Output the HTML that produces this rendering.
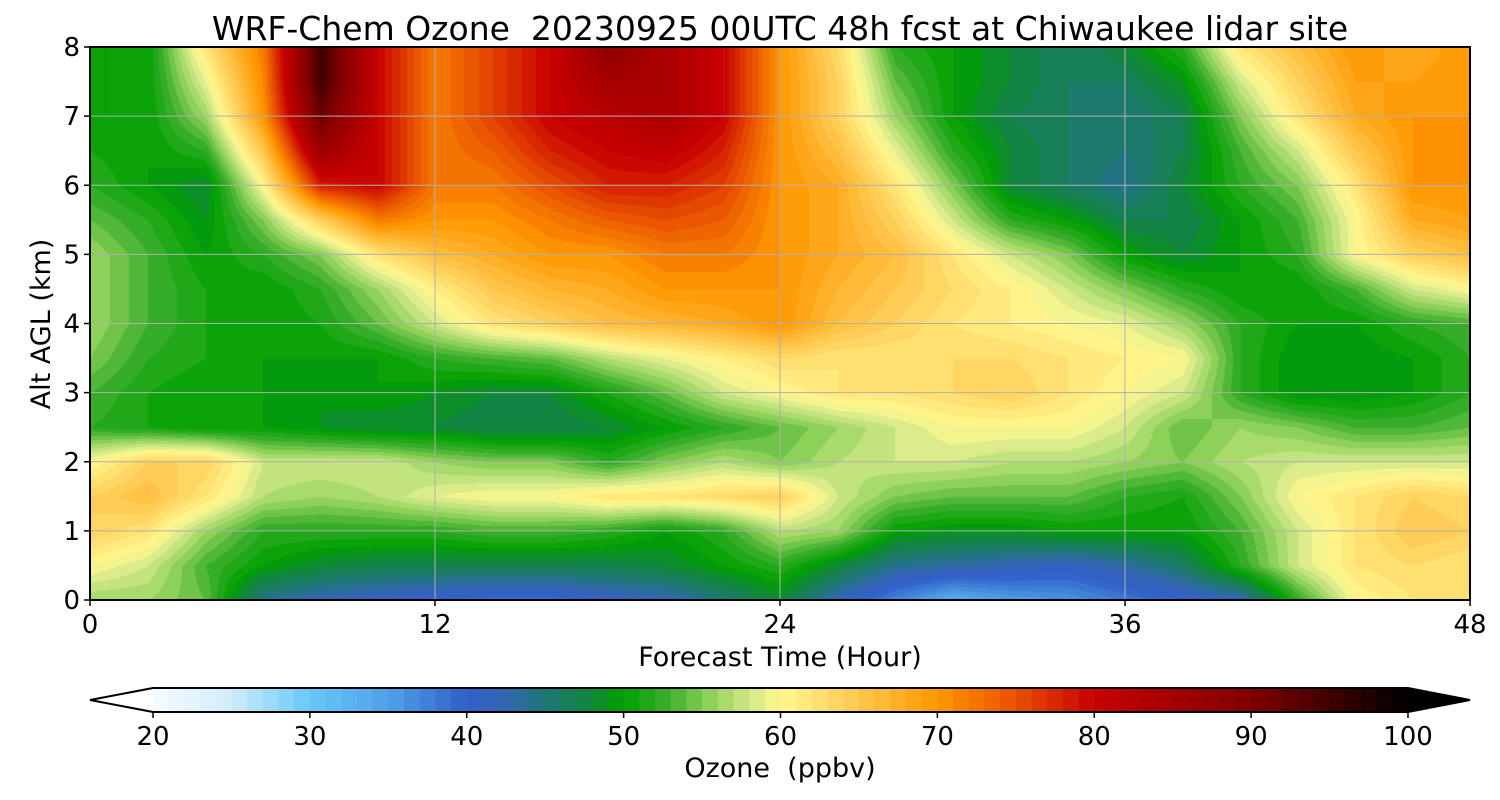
<!DOCTYPE html>
<html><head><meta charset="utf-8"><style>
body{margin:0;background:#fff;}
#wrap{position:relative;width:1500px;height:800px;font-family:"DejaVu Sans","Liberation Sans",sans-serif;}
canvas{position:absolute;left:90px;top:47px;}
svg{position:absolute;left:0;top:0;}
</style></head><body>
<div id="wrap">
<canvas id="cv" width="1380" height="553"></canvas>
<svg id="sv" width="1500" height="800"></svg>
</div>
<script>
const times=[0,2,4,6,8,10,12,14,16,18,20,22,24,26,28,30,32,34,36,38,40,42,44,46,48];
const alts=[0,0.5,1,1.5,2,2.5,3,3.5,4,4.5,5,5.5,6,6.5,7,7.5,8];
const z0=[56,56,54,44,42,41,40,39,39,41,42,45,48,42,37,33,35,36,38,40,42,52,60,62,62];
const z05=[60,58,53,50,48,47,47,47,47,47,48,50,52,48,44,43,42,41,43,46,52,58,62,63,62];
const z1=[64,62,56,52,52,52,52,53,53,52,50,52,57,56,50,49,49,50,50,50,53,58,62,65,64];
const z15=[64,66,62,57,56,57,59,60,60,62,62,63,64,58,55,54,54,54,52,51,55,60,62,64,63];
const z2=[60,64,64,58,58,58,56,55,55,52,55,57,55,57,58,58,57,57,56,55,57,58,58,58,58];
const z25=[52,51,50,50,49,48,48,47,47,48,50,52,54,56,58,60,60,60,58,54,56,55,53,53,54];
const z3=[53,51,50,50,49,50,49,48,48,51,54,58,60,62,62,63,64,62,60,58,52,49,49,50,52];
const z35=[55,52,51,50,50,50,52,53,54,57,59,61,63,62,62,63,63,62,61,60,52,49,49,50,52];
const z4=[56,53,51,50,51,54,58,62,64,66,67,68,70,66,64,62,61,60,59,56,52,50,50,52,53];
const z45=[56,53,51,50,52,56,61,65,67,68,70,70,70,67,65,63,61,58,55,52,50,50,53,58,60];
const z5=[56,53,50,52,55,62,66,68,70,70,72,72,70,68,66,62,58,55,50,48,50,52,60,64,66];
const z55=[54,52,49,55,64,72,70,70,72,74,75,74,70,68,64,58,52,50,47,47,50,53,60,68,69];
const z6=[52,50,48,60,78,80,72,72,75,78,78,76,70,68,62,55,48,46,44,48,52,55,62,70,70];
const z65=[51,50,52,65,86,80,72,74,78,80,81,78,70,66,59,52,48,46,45,47,53,58,65,70,70];
const z7=[50,50,56,70,92,80,72,76,80,82,84,80,70,64,56,50,47,46,45,47,55,62,68,70,70];
const z75=[50,50,59,71,95,80,72,76,80,85,84,80,70,64,54,50,48,46,46,49,58,64,69,69,70];
const z8=[50,50,62,72,95,80,72,76,80,88,84,80,70,63,52,50,48,46,48,52,62,66,70,68,70];
const grid=[z0,z05,z1,z15,z2,z25,z3,z35,z4,z45,z5,z55,z6,z65,z7,z75,z8];
const xTicks=[0,12,24,36,48];
const yTicks=[0,1,2,3,4,5,6,7,8];
const cbTicks=[20,30,40,50,60,70,80,90,100];

const stops=[[20,'#f5fbff'],[25,'#d0ecfc'],[30,'#66c8fa'],[35,'#50a0e8'],[40,'#3060c8'],[42,'#3462b8'],[45,'#207878'],[48,'#108838'],[50,'#00a000'],[53,'#40b030'],[55,'#80cc50'],[58,'#d0e888'],[60,'#fff890'],[65,'#ffc850'],[70,'#ff9800'],[75,'#e85000'],[80,'#c80000'],[90,'#800000'],[100,'#000000']];
function hex(h){return [1,3,5].map(i=>parseInt(h.substr(i,2),16));}
function cmap(v){
  v=Math.max(20,Math.min(100,v));
  for(let i=0;i<stops.length-1;i++){
    const [a,ca]=stops[i],[b,cb]=stops[i+1];
    if(v<=b){const f=(v-a)/(b-a),A=hex(ca),B=hex(cb);return A.map((x,k)=>Math.round(x+(B[k]-x)*f));}
  }
  return [0,0,0];
}
const PX=90,PW=1380,PY=47,PH=553;
const xs=t=>PX+t/48*PW, ys=z=>PY+PH-z/8*PH;
function val(t,z){
  let i=0;while(i<times.length-2&&t>times[i+1])i++;
  let j=0;while(j<alts.length-2&&z>alts[j+1])j++;
  const ft=(t-times[i])/(times[i+1]-times[i]),fz=(z-alts[j])/(alts[j+1]-alts[j]);
  const a=grid[j][i],b=grid[j][i+1],c=grid[j+1][i],d=grid[j+1][i+1];
  return (a*(1-ft)+b*ft)*(1-fz)+(c*(1-ft)+d*ft)*fz;
}
const cv=document.getElementById('cv'),ctx=cv.getContext('2d');
const img=ctx.createImageData(PW,PH);
for(let y=0;y<PH;y++){const z=(PH-y)/PH*8;for(let x=0;x<PW;x++){
  const t=x/PW*48;const v=Math.floor(val(t,z));const c=cmap(v+0.5);
  const o=(y*PW+x)*4;img.data[o]=c[0];img.data[o+1]=c[1];img.data[o+2]=c[2];img.data[o+3]=255;}}
ctx.putImageData(img,0,0);

const NS='http://www.w3.org/2000/svg',sv=document.getElementById('sv');
function el(tag,at,txt){const e=document.createElementNS(NS,tag);for(const k in at)e.setAttribute(k,at[k]);if(txt!==undefined)e.textContent=txt;sv.appendChild(e);return e;}
xTicks.forEach(t=>{
  const g=el('line',{x1:xs(t),x2:xs(t),y1:PY,y2:PY+PH,stroke:'#b0b0b0','stroke-width':1});
  
  
  el('line',{x1:xs(t),x2:xs(t),y1:PY+PH,y2:PY+PH+6,stroke:'#000','stroke-width':1.5});
  const l=el('text',{x:xs(t),y:PY+PH+33,'text-anchor':'middle','font-size':26},t);
  
  
});
yTicks.forEach(z=>{
  const g=el('line',{x1:PX,x2:PX+PW,y1:ys(z),y2:ys(z),stroke:'#b0b0b0','stroke-width':1});
  
  
  el('line',{x1:PX-6,x2:PX,y1:ys(z),y2:ys(z),stroke:'#000','stroke-width':1.5});
  const l=el('text',{x:PX-10,y:ys(z)+9,'text-anchor':'end','font-size':26},z);
  
  
});
const fr=el('rect',{x:PX,y:PY,width:PW,height:PH,fill:'none',stroke:'#000','stroke-width':2});


const ti=el('text',{x:780,y:40,'text-anchor':'middle','font-size':33},'WRF-Chem Ozone  20230925 00UTC 48h fcst at Chiwaukee lidar site');


ti.style.whiteSpace='pre';
const xl=el('text',{x:780,y:666,'text-anchor':'middle','font-size':27},'Forecast Time (Hour)');


const yl=el('text',{x:50,y:324,'text-anchor':'middle','font-size':27,transform:'rotate(-90 50 324)'},'Alt AGL (km)');



const CX0=153,CX1=1408,CY=688,CH=24;
const cx=v=>CX0+(v-20)/80*(CX1-CX0);
const lt=el('polygon',{points:`${CX0},${CY} 90,${CY+CH/2} ${CX0},${CY+CH}`,fill:'#fff'});


const rt=el('polygon',{points:`${CX1},${CY} 1470,${CY+CH/2} ${CX1},${CY+CH}`,fill:'#000'});


for(let v=20;v<100;v++){const c=cmap(v+0.5);
  const r=el('rect',{x:cx(v),y:CY,width:cx(v+1)-cx(v)+0.6,height:CH,fill:`rgb(${c})`});
  
  }
el('polygon',{points:`90,${CY+CH/2} ${CX0},${CY} ${CX1},${CY} 1470,${CY+CH/2} ${CX1},${CY+CH} ${CX0},${CY+CH}`,fill:'none',stroke:'#000','stroke-width':2});
cbTicks.forEach(v=>{
  el('line',{x1:cx(v),x2:cx(v),y1:CY+CH,y2:CY+CH+6,stroke:'#000','stroke-width':1.5});
  const l=el('text',{x:cx(v),y:CY+CH+33,'text-anchor':'middle','font-size':26},v);
  
  
});
const cl=el('text',{x:780,y:777,'text-anchor':'middle','font-size':27},'Ozone  (ppbv)');


cl.style.whiteSpace='pre';
</script>
</body></html>
